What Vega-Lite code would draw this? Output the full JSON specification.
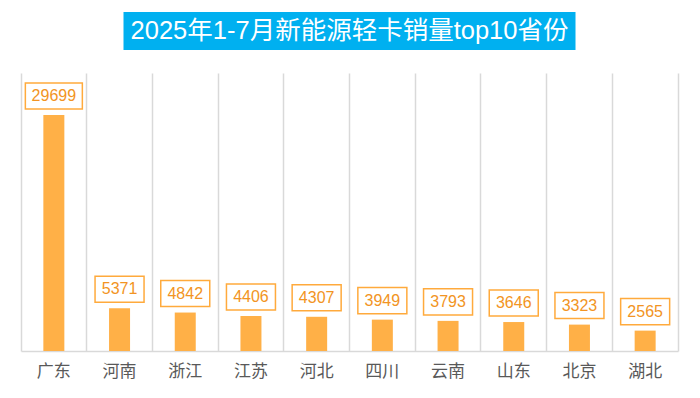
{
  "$schema": "https://vega.github.io/schema/vega-lite/v6.json",
  "padding": {"left": 21, "top": 12, "right": 21, "bottom": 12},
  "background": "white",
  "config": {"view": {"stroke": null}, "concat": {"spacing": 23}},
  "center": true,
  "vconcat": [
    {
      "width": 452,
      "height": 38,
      "view": {"fill": "#00B0F0", "stroke": null},
      "data": {"values": [{"title": "2025年1-7月新能源轻卡销量top10省份"}]},
      "mark": {"type": "text", "color": "white", "fontSize": 25.5, "font": "Liberation Sans, Noto Sans CJK SC", "baseline": "middle", "align": "center"},
      "encoding": {"text": {"field": "title"}}
    },
    {
      "width": 657,
      "height": 278,
      "data": {"values": [
        {"province": "广东", "sales": 29699},
        {"province": "河南", "sales": 5371},
        {"province": "浙江", "sales": 4842},
        {"province": "江苏", "sales": 4406},
        {"province": "河北", "sales": 4307},
        {"province": "四川", "sales": 3949},
        {"province": "云南", "sales": 3793},
        {"province": "山东", "sales": 3646},
        {"province": "北京", "sales": 3323},
        {"province": "湖北", "sales": 2565}
      ]},
      "encoding": {
        "x": {
          "field": "province", "type": "nominal", "sort": null,
          "scale": {"paddingInner": 0, "paddingOuter": 0},
          "axis": {
            "title": null, "grid": true, "gridColor": "#D9D9D9", "gridWidth": 1.5, "bandPosition": 0,
            "domain": true, "domainColor": "#D9D9D9", "domainWidth": 1.5, "ticks": false,
            "labelFontSize": 17, "labelColor": "#595959", "labelPadding": 12, "labelAngle": 0,
            "labelFont": "Noto Sans CJK SC"
          }
        },
        "y": {
          "field": "sales", "type": "quantitative",
          "scale": {"domain": [0, 35000], "nice": false},
          "axis": {"orient": "right", "title": null, "labels": false, "ticks": false, "grid": false, "domain": true, "domainColor": "#D9D9D9", "domainWidth": 1.5, "minExtent": 0, "maxExtent": 0}
        }
      },
      "layer": [
        {"mark": {"type": "bar", "size": 21, "color": "#FFB047"}},
        {
          "transform": [{"filter": "datum.sales < 10000"}],
          "mark": {"type": "point", "shape": "M-1,-0.531L1,-0.531L1,0.531L-1,0.531Z", "size": 2401, "filled": false, "stroke": "#FFAA3C", "strokeWidth": 1.5, "opacity": 1, "yOffset": -19}
        },
        {
          "transform": [{"filter": "datum.sales >= 10000"}],
          "mark": {"type": "point", "shape": "M-1,-0.456L1,-0.456L1,0.456L-1,0.456Z", "size": 3249, "filled": false, "stroke": "#FFAA3C", "strokeWidth": 1.5, "opacity": 1, "yOffset": -19}
        },
        {
          "mark": {"type": "text", "font": "Liberation Sans", "fontSize": 16, "color": "#F29423", "baseline": "middle", "align": "center", "dy": -19},
          "encoding": {"text": {"field": "sales", "type": "quantitative", "format": "d"}}
        }
      ]
    }
  ]
}
